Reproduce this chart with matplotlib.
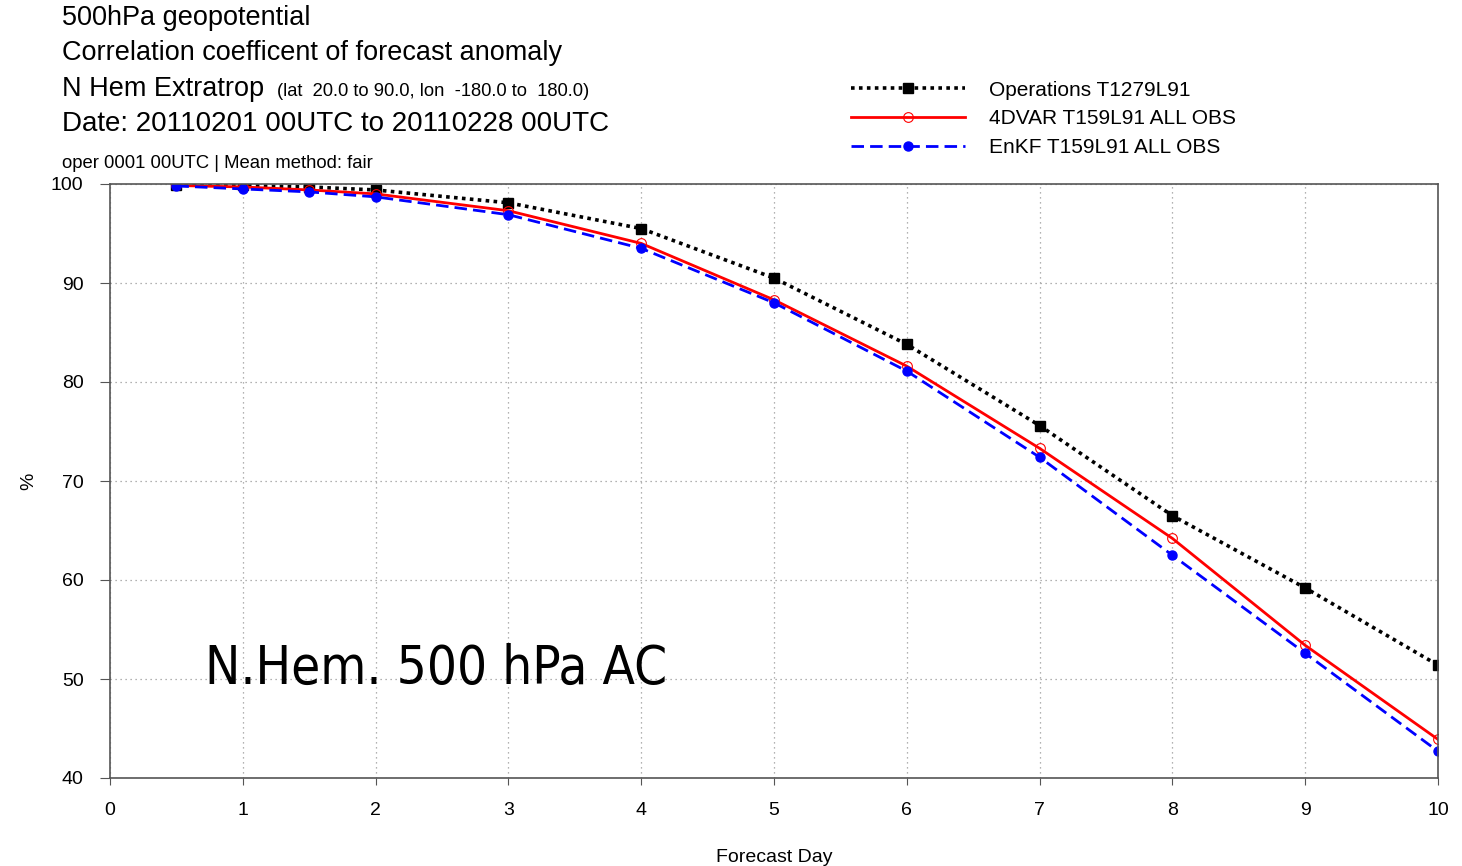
import matplotlib
matplotlib.use('Agg')
import matplotlib.pyplot as plt

# Forecast days and anomaly correlation (%) per experiment
days = [0.5, 1, 1.5, 2, 3, 4, 5, 6, 7, 8, 9, 10]
oper = [99.9, 99.85, 99.7, 99.4, 98.1, 95.5, 90.5, 83.8, 75.6, 66.5, 59.2, 51.4]
fourdvar = [99.85, 99.7, 99.4, 99.0, 97.3, 94.0, 88.3, 81.6, 73.3, 64.2, 53.4, 43.9]
enkf = [99.8, 99.5, 99.2, 98.7, 96.9, 93.5, 88.0, 81.1, 72.4, 62.5, 52.6, 42.7]

labels = ['Operations T1279L91', '4DVAR T159L91 ALL OBS', 'EnKF T159L91 ALL OBS']
xticks = list(range(0, 11))
yticks = [40, 50, 60, 70, 80, 90, 100]

plt.rcParams['font.family'] = ['Liberation Sans', 'DejaVu Sans']

fig = plt.figure(figsize=(14.62, 8.66), dpi=100)
ax = fig.add_axes([110 / 1462, 1 - 778 / 866, 1328 / 1462, 594 / 866])

l1, = ax.plot(days, oper, color='black', linestyle=(0, (1, 1.2)), linewidth=2.6,
              marker='s', markersize=7.5, markerfacecolor='black', label=labels[0])
l2, = ax.plot(days, fourdvar, color='red', linestyle='-', linewidth=2.0,
              marker='o', markersize=7, markerfacecolor='none',
              markeredgewidth=0.8, label=labels[1])
l3, = ax.plot(days, enkf, color='blue', linestyle=(0, (4.5, 2.2)), linewidth=2.0,
              marker='o', markersize=6.5, markerfacecolor='blue', label=labels[2])

ax.set_xlim(0, 10)
ax.set_ylim(40, 100)
ax.set_xticks(xticks)
ax.set_yticks(yticks)
ax.grid(True, color='#999999', linestyle=(0, (1, 3)), linewidth=0.9)
for s in ax.spines.values():
    s.set_color('#555555')
    s.set_linewidth(1.2)

ax.tick_params(axis='x', direction='out', length=5, pad=12, labelsize=14, color='#555555')
ax.tick_params(axis='y', direction='out', length=7, pad=12, labelsize=14, color='#555555')

ax.set_xlabel('Forecast Day', fontsize=14, labelpad=22)
ax.set_ylabel('%', fontsize=14, labelpad=10)

# Header text
fig.text(62 / 1462, 1 - 18 / 866, '500hPa geopotential', fontsize=19.5, va='center')
fig.text(62 / 1462, 1 - 53 / 866, 'Correlation coefficent of forecast anomaly', fontsize=19.5, va='center')
fig.text(62 / 1462, 1 - 89 / 866, 'N Hem Extratrop', fontsize=19.5, va='center')
fig.text(277 / 1462, 1 - 91 / 866, '(lat  20.0 to 90.0, lon  -180.0 to  180.0)', fontsize=13.2, va='center')
fig.text(62 / 1462, 1 - 124 / 866, 'Date: 20110201 00UTC to 20110228 00UTC', fontsize=20, va='center')
fig.text(62 / 1462, 1 - 163 / 866, 'oper 0001 00UTC | Mean method: fair', fontsize=13.3, va='center')

# Big annotation
ax.text((205 - 110) / 1328, 0.183, 'N.Hem. 500 hPa AC',
        transform=ax.transAxes, fontsize=38, family='DejaVu Sans',
        fontstretch='condensed', va='center')

fig.legend(handles=[l1, l2, l3], loc='upper left', bbox_to_anchor=(832 / 1462, 1 - 62 / 866),
           frameon=False, fontsize=15, handlelength=5.5, handletextpad=1.15,
           labelspacing=0.46, numpoints=1)

fig.savefig('out.png', dpi=100)
